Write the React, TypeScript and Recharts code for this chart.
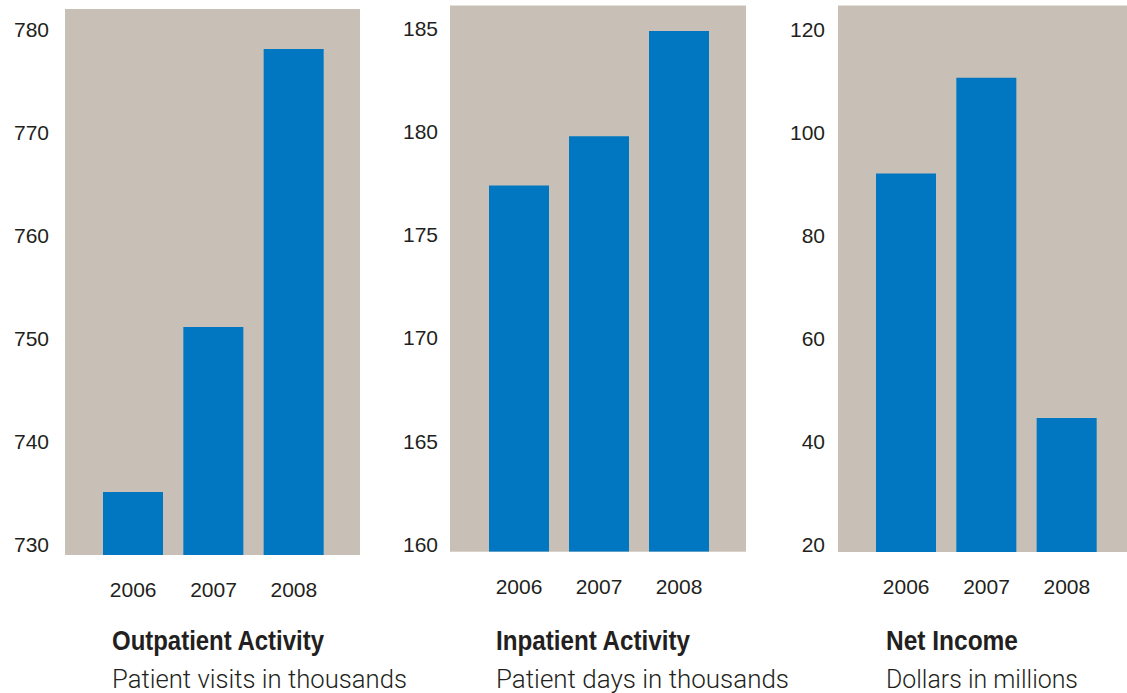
import { BarChart, Bar, XAxis, YAxis, CartesianGrid } from "recharts";

const years = ["2006", "2007", "2008"];
const outpatientVisits = [735.1, 751.1, 778.1];
const inpatientDays = [177.4, 179.8, 184.9];
const netIncome = [92.0, 110.6, 44.6];

const outpatientTicks = [730, 740, 750, 760, 770, 780];
const inpatientTicks = [160, 165, 170, 175, 180, 185];
const incomeTicks = [20, 40, 60, 80, 100, 120];

const BG = "#c8bfb6";
const BLUE = "#0077c0";
const INK = "#231f20";
const FONT = "'Liberation Sans', Arial, sans-serif";

type PanelProps = {
  values: number[];
  ticks: number[];
  domain: [number, number];
  left: number;
  width: number;
  top: number;
  right: number;
  xHeight: number;
  yGap: number;
  pad: { left: number; right: number };
};

function Panel({ values, ticks, domain, left, width, top, right, xHeight, yGap, pad }: PanelProps) {
  const data = years.map((y, i) => ({ year: y, value: values[i] }));
  const tickStyle = { fill: INK, fontSize: 21, fontFamily: FONT };
  return (
    <div style={{ position: "absolute", left, top: 0 }}>
      <BarChart width={width} height={620} data={data} margin={{ top, right, left: 0, bottom: 0 }}>
        <CartesianGrid fill={BG} stroke="none" horizontal={false} vertical={false} />
        <XAxis
          dataKey="year"
          axisLine={false}
          tickLine={false}
          tickSize={0}
          tickMargin={27}
          height={xHeight}
          padding={pad}
          tick={tickStyle}
        />
        <YAxis
          type="number"
          domain={domain}
          ticks={ticks}
          axisLine={false}
          tickLine={false}
          tickSize={0}
          tickMargin={yGap}
          width={65}
          tick={tickStyle}
          allowDataOverflow
        />
        <Bar dataKey="value" fill={BLUE} barSize={60} isAnimationActive={false} />
      </BarChart>
    </div>
  );
}

function Caption({ x, title, titleW, sub, subW }: { x: number; title: string; titleW: number; sub: string; subW: number }) {
  return (
    <svg style={{ position: "absolute", left: 0, top: 0 }} width={1127} height={693}>
      <text x={x} y={650} fontFamily={FONT} fontWeight={700} fontSize={28} fill={INK}
        textLength={titleW} lengthAdjust="spacingAndGlyphs">{title}</text>
      <text x={x} y={688} fontFamily="Roboto, 'Liberation Sans', sans-serif" fontWeight={300} fontSize={26} fill={INK}
        textLength={subW} lengthAdjust="spacingAndGlyphs">{sub}</text>
    </svg>
  );
}

export default function App() {
  return (
    <div style={{ position: "absolute", left: 0, top: 0, width: 1127, height: 693, background: "#fff", overflow: "hidden" }}>
      <Panel values={outpatientVisits} ticks={outpatientTicks} domain={[728.98, 781.97]}
        left={0} width={380} top={9} right={20} xHeight={65} yGap={16} pad={{ left: 28, right: 26 }} />
      <Panel values={inpatientDays} ticks={inpatientTicks} domain={[159.63, 186.14]}
        left={385} width={380} top={5.5} right={19} xHeight={68.3} yGap={12} pad={{ left: 29, right: 27 }} />
      <Panel values={netIncome} ticks={incomeTicks} domain={[18.6, 124.6]}
        left={773} width={354} top={5.5} right={0} xHeight={68} yGap={13} pad={{ left: 28, right: 20 }} />
      <Caption x={112} title="Outpatient Activity" titleW={212} sub="Patient visits in thousands" subW={295} />
      <Caption x={496} title="Inpatient Activity" titleW={194} sub="Patient days in thousands" subW={293} />
      <Caption x={886} title="Net Income" titleW={132} sub="Dollars in millions" subW={192} />
    </div>
  );
}
